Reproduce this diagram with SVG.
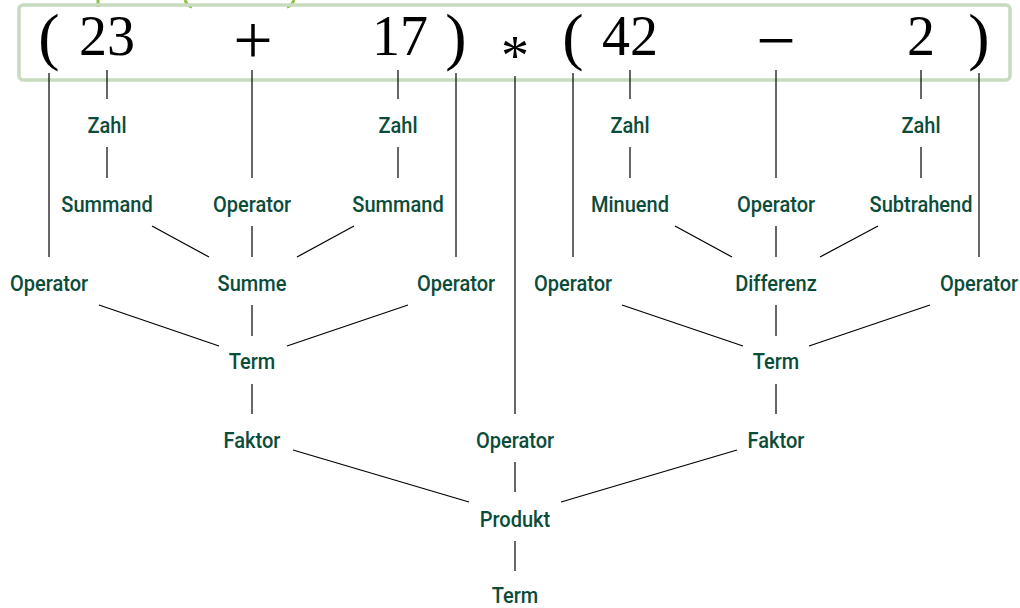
<svg xmlns="http://www.w3.org/2000/svg" width="1020" height="608" viewBox="0 0 1020 608">
<style>
.n{font-family:Roboto,"Noto Sans",sans-serif;font-size:22.5px;font-weight:500;fill:#0b4c3a;text-anchor:middle}
.m{font-family:"Liberation Serif","Times New Roman",serif;fill:#000;text-anchor:middle}
.c line{stroke:#000;stroke-width:1.2}
</style>
<rect width="1020" height="608" fill="#fff"/>
<g id="accent" stroke="#8fc241" stroke-width="3" fill="none">
<line x1="98" y1="0" x2="98" y2="7"/>
<path d="M185,0 Q187,6 192,7"/>
<path d="M294,0 Q292,6 287,7"/>
</g>
<g id="expression">
<rect x="19" y="5" width="991" height="75" rx="4" fill="none" stroke="#c8dbbf" stroke-width="3.5"/>
<text class="m" x="49" y="58" font-size="64">(</text>
<text class="m" x="107" y="55" font-size="56">23</text>
<text class="m" x="253" y="64" font-size="70">+</text>
<text class="m" x="400" y="55" font-size="56">17</text>
<text class="m" x="456" y="58" font-size="64">)</text>
<text class="m" x="515" y="75" font-size="56">*</text>
<text class="m" x="573" y="58" font-size="64">(</text>
<text class="m" x="630" y="55" font-size="56">42</text>
<text class="m" x="776" y="64" font-size="70">−</text>
<text class="m" x="921" y="55" font-size="56">2</text>
<text class="m" x="979" y="58" font-size="64">)</text>
</g>
<g id="connectors" class="c">
<line x1="49" y1="73" x2="49" y2="257"/>
<line x1="107" y1="70" x2="107" y2="99"/>
<line x1="252" y1="70" x2="252" y2="178"/>
<line x1="398" y1="70" x2="398" y2="99"/>
<line x1="456" y1="73" x2="456" y2="257"/>
<line x1="515" y1="76" x2="515" y2="414"/>
<line x1="573" y1="73" x2="573" y2="257"/>
<line x1="630" y1="70" x2="630" y2="99"/>
<line x1="776" y1="70" x2="776" y2="178"/>
<line x1="921" y1="70" x2="921" y2="99"/>
<line x1="979" y1="73" x2="979" y2="257"/>
<line x1="107" y1="147" x2="107" y2="178"/>
<line x1="398" y1="147" x2="398" y2="178"/>
<line x1="630" y1="147" x2="630" y2="178"/>
<line x1="921" y1="147" x2="921" y2="178"/>
<line x1="152" y1="226" x2="209" y2="257"/>
<line x1="252" y1="226" x2="252" y2="257"/>
<line x1="354" y1="226" x2="297" y2="257"/>
<line x1="675" y1="226" x2="732" y2="257"/>
<line x1="776" y1="226" x2="776" y2="257"/>
<line x1="878" y1="226" x2="820" y2="257"/>
<line x1="99" y1="305" x2="219" y2="346"/>
<line x1="252" y1="305" x2="252" y2="336"/>
<line x1="408" y1="305" x2="287" y2="346"/>
<line x1="622" y1="305" x2="743" y2="346"/>
<line x1="776" y1="305" x2="776" y2="336"/>
<line x1="930" y1="305" x2="809" y2="346"/>
<line x1="252" y1="384" x2="252" y2="414"/>
<line x1="776" y1="384" x2="776" y2="414"/>
<line x1="293" y1="450" x2="469" y2="502"/>
<line x1="515" y1="462" x2="515" y2="492"/>
<line x1="737" y1="450" x2="561" y2="502"/>
<line x1="515" y1="541" x2="515" y2="571"/>
</g>
<g id="zahl1"><text class="n" transform="translate(107,133) scale(0.89,1)">Zahl</text></g>
<g id="zahl2"><text class="n" transform="translate(398,133) scale(0.89,1)">Zahl</text></g>
<g id="zahl3"><text class="n" transform="translate(630,133) scale(0.89,1)">Zahl</text></g>
<g id="zahl4"><text class="n" transform="translate(921,133) scale(0.89,1)">Zahl</text></g>
<g id="summand1"><text class="n" transform="translate(107,212) scale(0.89,1)">Summand</text></g>
<g id="operator-plus"><text class="n" transform="translate(252,212) scale(0.89,1)">Operator</text></g>
<g id="summand2"><text class="n" transform="translate(398,212) scale(0.89,1)">Summand</text></g>
<g id="minuend"><text class="n" transform="translate(630,212) scale(0.89,1)">Minuend</text></g>
<g id="operator-minus"><text class="n" transform="translate(776,212) scale(0.89,1)">Operator</text></g>
<g id="subtrahend"><text class="n" transform="translate(921,212) scale(0.89,1)">Subtrahend</text></g>
<g id="operator-lp1"><text class="n" transform="translate(49,291) scale(0.89,1)">Operator</text></g>
<g id="summe"><text class="n" transform="translate(252,291) scale(0.89,1)">Summe</text></g>
<g id="operator-rp1"><text class="n" transform="translate(456,291) scale(0.89,1)">Operator</text></g>
<g id="operator-lp2"><text class="n" transform="translate(573,291) scale(0.89,1)">Operator</text></g>
<g id="differenz"><text class="n" transform="translate(776,291) scale(0.89,1)">Differenz</text></g>
<g id="operator-rp2"><text class="n" transform="translate(979,291) scale(0.89,1)">Operator</text></g>
<g id="term1"><text class="n" transform="translate(252,369) scale(0.89,1)">Term</text></g>
<g id="term2"><text class="n" transform="translate(776,369) scale(0.89,1)">Term</text></g>
<g id="faktor1"><text class="n" transform="translate(252,448) scale(0.89,1)">Faktor</text></g>
<g id="operator-mul"><text class="n" transform="translate(515,448) scale(0.89,1)">Operator</text></g>
<g id="faktor2"><text class="n" transform="translate(776,448) scale(0.89,1)">Faktor</text></g>
<g id="produkt"><text class="n" transform="translate(515,527) scale(0.89,1)">Produkt</text></g>
<g id="term-root"><text class="n" transform="translate(515,603) scale(0.89,1)">Term</text></g>
</svg>
